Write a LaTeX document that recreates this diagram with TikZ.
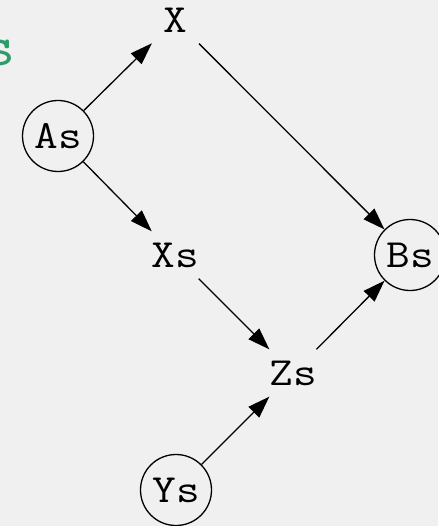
\documentclass[tikz,border=0pt]{standalone}
\usepackage{fontspec}
\newfontfamily\nodefont[FakeStretch=1.15]{Latin Modern Mono}
\usetikzlibrary{arrows.meta}
\definecolor{labelgreen}{RGB}{46,156,106}
\definecolor{bggray}{RGB}{240,240,240}

\begin{document}
\begin{tikzpicture}[x=1pt, y=-1pt, line width=1.3pt,
    >={Triangle[length=22pt,width=15pt]},
    every node/.style={font=\nodefont\fontsize{40}{48}\selectfont, text depth=0pt, inner sep=0pt},
    latent/.style={rectangle, minimum width=46pt, minimum height=46pt},
    observed/.style={circle, draw, minimum size=71pt}]
% page background
    \fill[bggray] (0,0) rectangle (438,526);
    \useasboundingbox (0,0) rectangle (438,526);

    \node[text=labelgreen, font=\nodefont\fontsize{58}{70}\selectfont, anchor=base east] (title) at (17,66) {s};

    \node[latent] (x) at (175.5,20) {X};
    \node[observed] (as) at (58,136) {As};
    \node[latent] (xs) at (175,255) {Xs};
    \node[observed] (bs) at (410,255) {Bs};
    \node[latent] (zs) at (293,373) {Zs};
    \node[observed] (ys) at (176,490) {Ys};

    % straight arrows
    \draw[->] (as) -- (x);
    \draw[->] (as) -- (xs);
    \draw[->] (x) -- (bs);
    \draw[->] (xs) -- (zs);
    \draw[->] (zs) -- (bs);
    \draw[->] (ys) -- (zs);
\end{tikzpicture}
\end{document}
